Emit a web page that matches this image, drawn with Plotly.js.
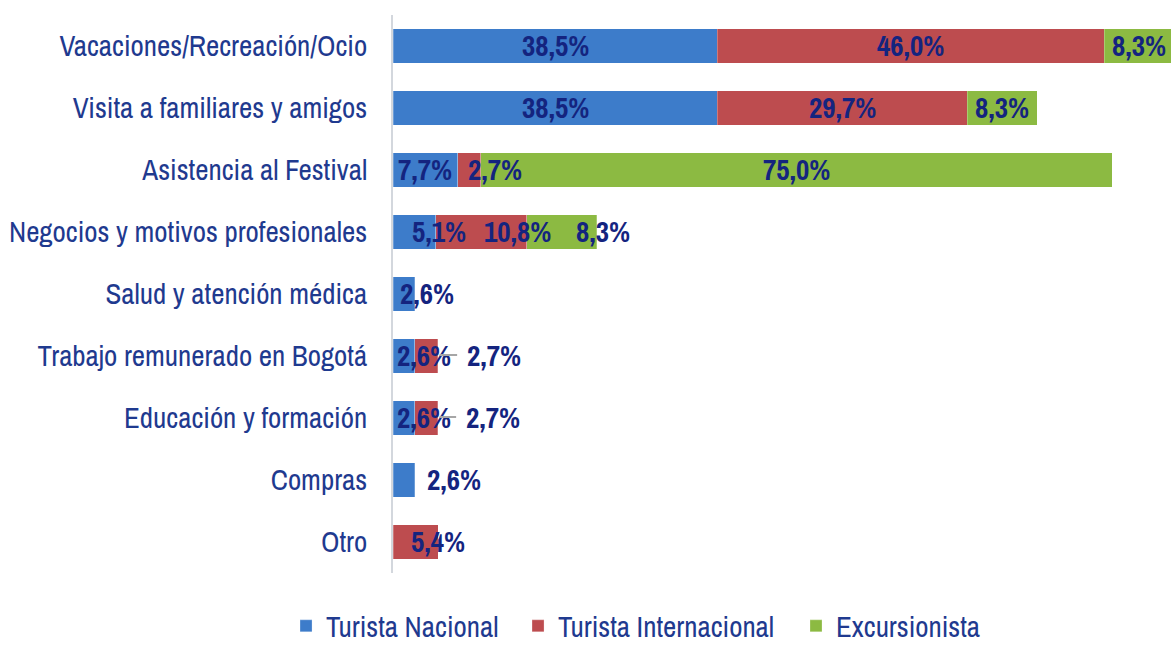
<!DOCTYPE html>
<html>
<head>
<meta charset="utf-8">
<script src="https://cdn.plot.ly/plotly-3.0.1.min.js"></script>
<style>
html,body{margin:0;padding:0;background:#fff;}
#chart{width:1171px;height:646px;}
</style>
</head>
<body>
<div id="chart"></div>
<script>
// ---- data ----
const categories = [
  "Vacaciones/Recreación/Ocio",
  "Visita a familiares y amigos",
  "Asistencia al Festival",
  "Negocios y motivos profesionales",
  "Salud y atención médica",
  "Trabajo remunerado en Bogotá",
  "Educación y formación",
  "Compras",
  "Otro"
];
const turistaNacional      = [38.5, 38.5, 7.7, 5.1, 2.6, 2.6, 2.6, 2.6, null];
const turistaInternacional = [46.0, 29.7, 2.7, 10.8, null, 2.7, 2.7, null, 5.4];
const excursionista        = [8.3, 8.3, 75.0, 8.3, null, null, null, null, null];
const seriesNames = ["Turista Nacional", "Turista Internacional", "Excursionista"];

// ---- style ----
const colors = ["#3d7cca", "#bd4c4f", "#8cba42"];
const FONT = "'Archivo Narrow', 'Roboto Condensed', 'PT Sans Narrow', 'DejaVu Sans Condensed', sans-serif";
const labelColor = "#14247f";
const tickColor = "#1f3a8f";
// per-label horizontal nudges (px) and leader-line offsets, keyed "series:categoryIndex"
const labelNudge = {"1:2": 26, "0:3": 25, "1:3": 36, "2:3": 41, "0:4": 23, "0:5": 20, "0:6": 20, "0:7": 50, "1:8": 22};
const leaderOffset = {"1:5": 56, "1:6": 55};
// legend entry positions (paper x), one legend per series
const legendX = [-0.1375, 0.1607, 0.518];
const legendIds = ["legend", "legend2", "legend3"];

const seriesValues = [turistaNacional, turistaInternacional, excursionista];

const traces = seriesValues.map((vals, s) => ({
  type: "bar",
  orientation: "h",
  name: seriesNames[s],
  legend: legendIds[s],
  y: categories,
  x: vals,
  marker: {color: colors[s], line: {color: "rgba(255,255,255,0.5)", width: 0.5}},
  hoverinfo: "skip"
}));

const fmt = v => v.toFixed(1).replace(".", ",") + "%";
const annotations = [];
categories.forEach((cat, i) => {
  let base = 0;
  seriesValues.forEach((vals, s) => {
    const v = vals[i];
    if (v == null) return;
    const key = s + ":" + i;
    const a = {
      xref: "x", yref: "y", y: cat,
      text: "<b>" + fmt(v) + "</b>",
      font: {family: FONT, size: 29, color: labelColor},
      yshift: 1
    };
    if (leaderOffset[key] != null) {
      Object.assign(a, {
        x: base + v, showarrow: true, arrowhead: 0, arrowwidth: 2,
        arrowcolor: "#a6a6a6", ax: leaderOffset[key], ay: 0,
        standoff: 2, startstandoff: 8
      });
    } else {
      Object.assign(a, {x: base + v / 2, showarrow: false, xshift: labelNudge[key] || 0});
    }
    annotations.push(a);
    base += v;
  });
});

const layout = {
  width: 1171, height: 646,
  margin: {l: 393, r: 0, t: 15, b: 73, pad: 0, autoexpand: false},
  paper_bgcolor: "#ffffff", plot_bgcolor: "#ffffff",
  barmode: "stack",
  bargap: 0.45,
  showlegend: true,
  xaxis: {range: [0, 92.4], visible: false, fixedrange: true},
  yaxis: {
    type: "category", autorange: "reversed",
    showline: true, linecolor: "#d3d7dd", linewidth: 2,
    showgrid: false, zeroline: false, ticks: "",
    ticklabelstandoff: 18,
    tickfont: {family: FONT, size: 29, color: tickColor}
  },
  annotations: annotations
};
legendIds.forEach((id, s) => {
  layout[id] = {
    orientation: "h", x: legendX[s], xanchor: "left", y: -0.095, yanchor: "middle",
    font: {family: FONT, size: 29, color: tickColor},
    bgcolor: "rgba(0,0,0,0)"
  };
});

Plotly.newPlot("chart", traces, layout, {staticPlot: true, displayModeBar: false});
</script>
</body>
</html>
